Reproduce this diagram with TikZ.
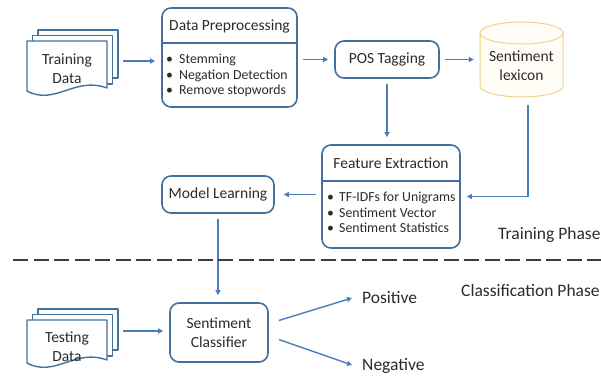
\documentclass[tikz,border=0pt]{standalone}
\usepackage{fontspec}
\setmainfont{Carlito}
\usetikzlibrary{arrows.meta,calc}

\definecolor{boxblue}{HTML}{41719C}
\definecolor{arrowblue}{HTML}{4A7EBB}
\definecolor{txt}{HTML}{2B2B2B}
\definecolor{lexline}{HTML}{EFD38C}
\definecolor{lexfill}{HTML}{FFFDF6}
\definecolor{phasegray}{HTML}{3C3C3C}

\tikzset{
  box/.style={draw=boxblue, line width=1.6pt, rounded corners=9pt, fill=white, inner sep=0pt},
  titletext/.style={text=txt, font=\fontsize{15.5}{19}\selectfont, align=center},
  itemtext/.style={text=txt, font=\fontsize{13.8}{15.5}\selectfont, align=left, inner sep=0pt, anchor=west},
  labeltext/.style={text=txt, font=\fontsize{17.5}{20}\selectfont, inner sep=0pt, anchor=west},
  divider/.style={draw=boxblue, line width=1.4pt},
  page/.style={draw=boxblue, fill=white, line width=1.4pt, line join=round},
  arr/.style={draw=arrowblue, line width=1.4pt, -{Triangle[length=5pt,width=5pt]},
              shorten >=6pt, shorten <=5pt},
  divline/.style={draw=phasegray, line width=2.6pt, dash pattern=on 15pt off 5.5pt}
}

% a stack of three documents, front page with a wavy bottom edge
% #1,#2 = top-left corner of the front page, #3 = width, #4 = height at the left edge
\newcommand{\pagestack}[4]{%
  \draw[page] (#1+11,#2-11) rectangle (#1+#3+11,#2+#4-13);
  \draw[page] (#1+5.5,#2-5.5) rectangle (#1+#3+5.5,#2+#4-7);
  \draw[page] (#1,#2) -- (#1+#3,#2) -- (#1+#3,#2+#4-3)
    .. controls (#1+0.6*#3,#2+#4-15) and (#1+0.35*#3,#2+#4+15) .. (#1,#2+#4) -- cycle;
}

\begin{document}
\begin{tikzpicture}[x=1pt, y=-1pt]
\useasboundingbox (0,0) rectangle (601,375);

% ---------- training phase ----------
\pagestack{27}{41}{80}{50}
\node[titletext] (td) at (67,69) {Training\\Data};
\coordinate (tdout) at (118,61);

\node[box, minimum width=135pt, minimum height=99pt] (dp) at (229.5,57.5) {};
\node[titletext] (dpt) at (229.5,26) {Data Preprocessing};
\draw[divider] (dp.west |- 0,43) -- (dp.east |- 0,43);
\node[itemtext] (dpi) at (166,75.5)
  {\makebox[13pt][l]{•}Stemming\\\makebox[13pt][l]{•}Negation Detection\\\makebox[13pt][l]{•}Remove stopwords};

\node[box, titletext, minimum width=104pt, minimum height=37pt] (tag) at (387,59.5) {POS Tagging};

% sentiment lexicon drawn as a cylinder
\fill[lexfill] (480,33) -- (480,86)
  arc[start angle=180, end angle=360, x radius=41.5pt, y radius=11pt]
  -- (563,33)
  arc[start angle=0, end angle=180, x radius=41.5pt, y radius=11pt] -- cycle;
\draw[lexline, line width=1pt] (480,33) -- (480,86)
  arc[start angle=180, end angle=360, x radius=41.5pt, y radius=11pt]
  -- (563,33);
\draw[lexline, line width=1pt] (521.5,33) ellipse [x radius=41.5pt, y radius=11pt];
\node[titletext, minimum width=83pt, minimum height=62pt, inner sep=0pt] (lex) at (521.5,66) {Sentiment\\lexicon};

\node[box, minimum width=138pt, minimum height=103pt] (fe) at (391,196.5) {};
\node[titletext] (fet) at (391,163) {Feature Extraction};
\draw[divider] (fe.west |- 0,181) -- (fe.east |- 0,181);
\node[itemtext] (fei) at (327,212.5)
  {\makebox[12pt][l]{•}TF-IDFs for Unigrams\\\makebox[12pt][l]{•}Sentiment Vector\\\makebox[12pt][l]{•}Sentiment Statistics};

\node[box, titletext, minimum width=112pt, minimum height=37pt] (ml) at (218,194.5) {Model Learning};

% ---------- classification phase ----------
\pagestack{27}{320}{80}{43}
\node[titletext] (tsd) at (67,347) {Testing\\Data};
\coordinate (tsout) at (118,331);

\node[box, titletext, minimum width=98pt, minimum height=59pt] (sc) at (219,332.5) {Sentiment\\Classifier};

\node[labeltext] (posl) at (362,298) {Positive};
\node[labeltext] (negl) at (362,366) {Negative};

% ---------- connectors ----------
\draw[arr] (tdout) -- (tdout -| dp.west);
\draw[arr] (dp.east |- tag.west) -- (tag.west);
\draw[arr] (tag.east) -- (tag.east -| lex.west);
\draw[arr, shorten >=7pt] (tag.south) -- (tag.south |- fe.north);
\draw[arr, shorten <=8pt] ([xshift=6.5pt]lex.south) |- (fe.east);
\draw[arr, shorten >=9pt] (fe.west |- ml.east) -- (ml.east);
\draw[arr, shorten >=7pt] (ml.south) -- (ml.south |- sc.north);
\draw[arr] (tsout) -- (tsout -| sc.west);
\draw[arr, shorten <=0pt, shorten >=0pt] ($(sc.east)+(10,-12)$) -- ($(posl.west)+(-10,0)$);
\draw[arr, shorten <=0pt, shorten >=0pt] ($(sc.east)+(10,7)$) -- ($(negl.west)+(-10,-1)$);

% ---------- phase separator ----------
\coordinate (divl) at (13,260);
\coordinate (divr) at (601,260);
\draw[divline] (divl) -- (divr);
\node[labeltext] (trp) at (498,235) {Training Phase};
\node[labeltext] (clp) at (461,290) {Classification Phase};
\end{tikzpicture}
\end{document}
